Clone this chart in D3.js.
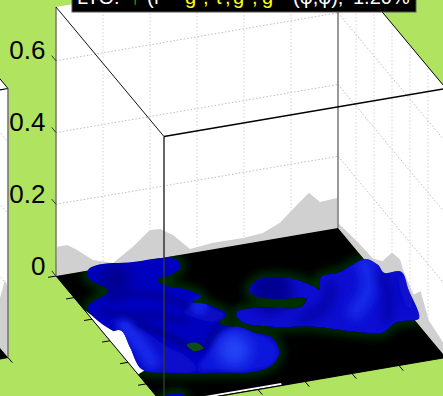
<!DOCTYPE html>
<html><head><meta charset="utf-8">
<script src="https://cdn.jsdelivr.net/npm/d3@7"></script>
<style>html,body{margin:0;padding:0;background:#b0e460;overflow:hidden}svg{display:block;font-family:"Liberation Sans",Arial,sans-serif}</style>
</head><body><svg id="c" width="443" height="396"></svg>
<script>
// ---------- data ----------
const zTicks = [0, 0.2, 0.4, 0.6];
const zLabels = ["0", "0.2", "0.4", "0.6"];
const floorTicks = [0, 1/6, 2/6, 3/6, 4/6, 5/6, 1];
const leftProfileU = [0,.004,.039,.074,.131,.202,.273,.333,.369,.415,.475,.557,.663,.734,.794,.855,.897,.936,.996,1];
const leftProfileZ = [0,.081,.081,.063,.027,.009,.045,.084,.082,.059,.012,.018,.017,.022,.042,.084,.112,.081,.084,.084];
const rightProfileV = [0,.0,.18,.325,.41,.5,.575,.605,.70,.765,.84,1];
const rightProfileZ = [0,.014,.027,.032,.055,.112,.12,.1,.067,.1,.046,.03];
const prevProfileV = [.8,.926,.972,1];
const prevProfileZ = [.1,.14,.206,.193];
const blobA = [[.115,-.004],[.156,-.027],[.275,-.006],[.379,.001],[.418,.031],[.407,.089],[.358,.124],[.305,.143],[.311,.184],[.373,.245],[.396,.308],[.352,.33],[.398,.37],[.429,.458],[.384,.503],[.414,.545],[.436,.553],[.471,.612],[.511,.666],[.495,.775],[.443,.848],[.373,.876],[.267,.845],[.102,.784],[.025,.732],[.046,.563],[.061,.446],[.032,.427],[.016,.252],[.116,.174],[.127,.155],[.095,.05]];
const blobB = [[.465,.456],[.534,.443],[.683,.49],[.719,.442],[.696,.426],[.641,.413],[.574,.373],[.563,.316],[.617,.258],[.715,.279],[.774,.37],[.782,.396],[.821,.311],[.884,.303],[.956,.261],[1.006,.241],[1.029,.295],[1.027,.356],[1.083,.369],[1.059,.499],[1.017,.706],[.969,.704],[.933,.706],[.867,.758],[.785,.721],[.673,.641],[.539,.591],[.458,.523]];
const blobC = [[.02,.94],[.05,.93],[.09,.95],[.07,.99],[.02,.99]];
const whiteGap = [[.0,.26],[.035,.44],[.08,.43],[.046,.563],[.03,.74],[0,.76]];
const pit = [[.228,.615],[.262,.612],[.272,.655],[.236,.668]];
// raised parts of the surface
const humpBig = [[.430,.551],[.467,.595],[.506,.679],[.495,.775],[.440,.855],[.363,.872],[.269,.838],[.196,.796],[.288,.675],[.356,.585]];
const humpLeft = [[.084,.385],[.132,.464],[.157,.589],[.198,.696],[.196,.796],[.025,.732],[.046,.563]];
const humpSmall = [[.378,.339],[.403,.403],[.426,.466],[.374,.492],[.318,.441],[.302,.388]];
const humpLevels = [.55,.46,.4];
// dark troughs and bright crests, as lines across the floor
const troughs = [
 [[.107,.209],[.186,.207],[.285,.274],[.337,.370]],
 [[.046,.294],[.126,.347],[.237,.402],[.286,.459]],
 [[.128,.409],[.191,.524],[.237,.641],[.291,.638],[.360,.548],[.420,.509]],
 [[1.013,.366],[.984,.509],[.915,.677]],
 [[.831,.376],[.766,.506],[.650,.579]]
];
const troughLevels = [.14,.14,.07,.22,.2];
const crests = [
 [[.990,.265],[.945,.433],[.833,.592]],
 [[1.063,.423],[1.025,.601]],
 [[.083,.407],[.085,.524],[.076,.690]]
];
const crestLevels = [.74,.45,.72];
const peaksU = [.362,.365,.632,.17];
const peaksV = [.703,.373,.341,.10];
const peaksLevel = [.86,.68,.16,.16];
const peaksSpread = [.06,.03,.08,.06];
const titleText = ["LTO:","↑","(f","g",",","t",",","g",",","g","(φ,φ);","1.20%"];
const titleColor = ["#fff","#00e000","#fff","#ff0","#ff0","#ff0","#ff0","#ff0","#ff0","#ff0","#fff","#fff"];

// ---------- projection ----------
const uX=d3.scaleLinear([0,1],[0,282]), uY=d3.scaleLinear([0,1],[0,-48]);
const vX=d3.scaleLinear([0,1],[0,108]), vY=d3.scaleLinear([0,1],[0,129.5]);
const zY=d3.scaleLinear([0,.75],[0,-269]);
const P=(u,v,z=0,ox=56,oy=276)=>[ox+uX(u)+vX(v), oy+uY(u)+vY(v)+zY(z)];
const svg=d3.select("#c");
const defs=svg.append("defs");
const blur=(id,s)=>defs.append("filter").attr("id",id).attr("filterUnits","userSpaceOnUse").attr("x",-50).attr("y",-50).attr("width",560).attr("height",500).append("feGaussianBlur").attr("stdDeviation",s);
blur("b5",5);blur("b7",7);blur("b1",.5);blur("b2",1.4);blur("b3",3);blur("b4",4);blur("b6",6);
const poly=d3.line(), smooth=d3.line().curve(d3.curveCatmullRomClosed.alpha(.5)), open=d3.line().curve(d3.curveCatmullRom.alpha(.5));
const seg=(g,a,b,c,w,dash)=>g.append("line").attr("x1",a[0]).attr("y1",a[1]).attr("x2",b[0]).attr("y2",b[1]).attr("stroke",c).attr("stroke-width",w).attr("stroke-dasharray",dash||null);
const zMax=.75, dotted="1.5 2", gridC="#bdbdbd";

// ---------- previous panel ----------
const prev=svg.append("g");
const Q=(u,v,z=0)=>P(u,v,z,56-438,276);
prev.append("path").attr("fill","#fff").attr("d",poly([Q(1,0,zMax),Q(1,1,zMax),Q(1,1,0),Q(1,0,0)])+"Z");
zTicks.slice(1).forEach(t=>seg(prev,Q(1,0,t),Q(1,1,t),gridC,1,dotted));
prev.append("path").attr("fill","#d0d0d0").attr("d",poly([...prevProfileV.map((v,i)=>Q(1,v,prevProfileZ[i])),Q(1,1,0),Q(1,.8,0)])+"Z");
prev.append("path").attr("fill","#000").attr("d",poly([Q(.9,1,0),Q(1,1,0),Q(1,.9,0)])+"Z");
seg(prev,Q(1,.8,zMax),Q(1,1,zMax),"#000",1);
seg(prev,Q(.9,1,zMax),Q(1,1,zMax),"#000",1.2);
seg(prev,Q(1,1,zMax),Q(1,1,0),"#777",1.6);
seg(prev,Q(.9,1,0),Q(1,1,0),"#000",1.2);
seg(prev,Q(1,1,0),Q(1,1.04,0),"#000",1);

// ---------- walls ----------
svg.append("path").attr("fill","#fff").attr("d",poly([P(0,0,zMax),P(1,0,zMax),P(1,1,zMax),P(1,1,0),P(1,0,0),P(0,0,0)])+"Z");
const grid=svg.append("g");
zTicks.slice(1).forEach(t=>{seg(grid,P(0,0,t),P(1,0,t),gridC,1,dotted);seg(grid,P(1,0,t),P(1,1,t),gridC,1,dotted);});
floorTicks.slice(1,-1).forEach(t=>{seg(grid,P(t,0,0),P(t,0,zMax),"#d4d4d4",1,dotted);seg(grid,P(1,t,0),P(1,t,zMax),"#d4d4d4",1,dotted);});
svg.append("path").attr("fill","#d0d0d0").attr("d",poly([...leftProfileU.map((u,i)=>P(u,0,leftProfileZ[i])),P(1,0,0)])+"Z");
svg.append("path").attr("fill","#d0d0d0").attr("d",poly([...rightProfileV.map((v,i)=>P(1,v,rightProfileZ[i])),P(1,1,0)])+"Z");

// ---------- floor and surface ----------
const floorPts=[P(0,0),P(1,0),P(1,1),P(0,1)];
svg.append("path").attr("fill","#000").attr("d",poly(floorPts)+"Z");
defs.append("clipPath").attr("id","floor").append("path").attr("d",poly(floorPts)+"Z");
const toPx=b=>b.map(d=>P(d[0],d[1]));
const paths=[blobA,blobB,blobC].map(b=>smooth(toPx(b)));
const glow=svg.append("g").attr("clip-path","url(#floor)");
paths.forEach(d=>glow.append("path").attr("d",d).attr("fill","none").attr("stroke","#063406").attr("stroke-width",9).attr("filter","url(#b5)"));
svg.append("path").attr("fill","#fff").attr("d",poly(toPx(whiteGap))+"Z");
seg(svg,P(.14,.99),P(.42,.99),"#fff",2);
defs.append("clipPath").attr("id","surf").selectAll("path").data(paths).join("path").attr("d",d=>d);
const surf=svg.append("g");
const base=["#0505c0","#0808d2","#0505c0"];
paths.forEach((d,i)=>surf.append("path").attr("d",d).attr("fill",base[i]).attr("filter","url(#b1)"));
const level=d3.scaleLinear([0,.25,.6,1],["#00006e","#0404a8","#0a14e4","#2f5cff"]);
const shade=surf.append("g").attr("clip-path","url(#surf)");
[humpBig,humpLeft,humpSmall].forEach((h,i)=>shade.append("path").attr("d",smooth(toPx(h))).attr("fill",level(humpLevels[i])).attr("filter","url(#b3)"));
crests.forEach((c,i)=>shade.append("path").attr("d",open(toPx(c))).attr("fill","none").attr("stroke",level(crestLevels[i])).attr("stroke-width",i===1?10:14).attr("stroke-linecap","round").attr("filter",i===2?"url(#b4)":"url(#b6)"));
troughs.forEach((c,i)=>shade.append("path").attr("d",open(toPx(c))).attr("fill","none").attr("stroke",level(troughLevels[i])).attr("stroke-width",i<3?5:9).attr("stroke-linecap","round").attr("filter",i<3?"url(#b3)":"url(#b6)"));
peaksU.forEach((u,i)=>{const c=P(u,peaksV[i]);
 shade.append("circle").attr("cx",c[0]).attr("cy",c[1]).attr("r",uX(peaksSpread[i])).attr("fill",level(peaksLevel[i])).attr("filter",peaksSpread[i]<.04?"url(#b3)":"url(#b7)");});
surf.append("path").attr("d",smooth(toPx(pit))).attr("fill","#0a5010").attr("filter","url(#b1)");

// ---------- box lines ----------
const box=svg.append("g");
seg(box,P(0,0,0),P(0,0,zMax),"#777",1.5);
seg(box,P(1,0,0),P(1,0,zMax),"#808080",1.6);
seg(box,P(0,1,0),P(0,1,zMax),"#333",1.5);
seg(box,P(0,0,zMax),P(0,1,zMax),"#111",1);
seg(box,P(0,1,zMax),P(1,1,zMax),"#000",1.5);
seg(box,P(1,0,zMax),P(1,1,zMax),"#000",1);
seg(box,P(0,0,0),P(0,1,0),"#000",1);
seg(box,P(0,1,0),P(1,1,0),"#000",1.2);
floorTicks.slice(0,-1).forEach(t=>seg(box,P(0,t),P(-.028,t),"#000",1));
floorTicks.slice(1,-1).forEach(t=>seg(box,P(t,1),P(t,1.04),"#000",1));
zTicks.forEach(t=>seg(box,P(0,0,t),P(0,-.04,t),"#333",1));

// ---------- labels ----------
svg.append("g").selectAll("text").data(zTicks).join("text")
 .attr("x",45.5).attr("y",d=>P(0,0,d)[1]-1.5).attr("text-anchor","end").attr("font-size",26).attr("fill","#000")
 .text((d,i)=>zLabels[i]);

// ---------- title bar ----------
const titleXs=[77,130,147,185,203,216,225,233,252,262,293,353];
svg.append("rect").attr("x",72).attr("y",-2).attr("width",344).attr("height",14).attr("fill","#000").attr("stroke","#555").attr("stroke-width",1);
svg.append("g").selectAll("text").data(titleText).join("text")
 .attr("x",(d,i)=>titleXs[i]).attr("y",3.5).attr("font-size",20).attr("fill",(d,i)=>titleColor[i]).text(d=>d);
</script></body></html>
